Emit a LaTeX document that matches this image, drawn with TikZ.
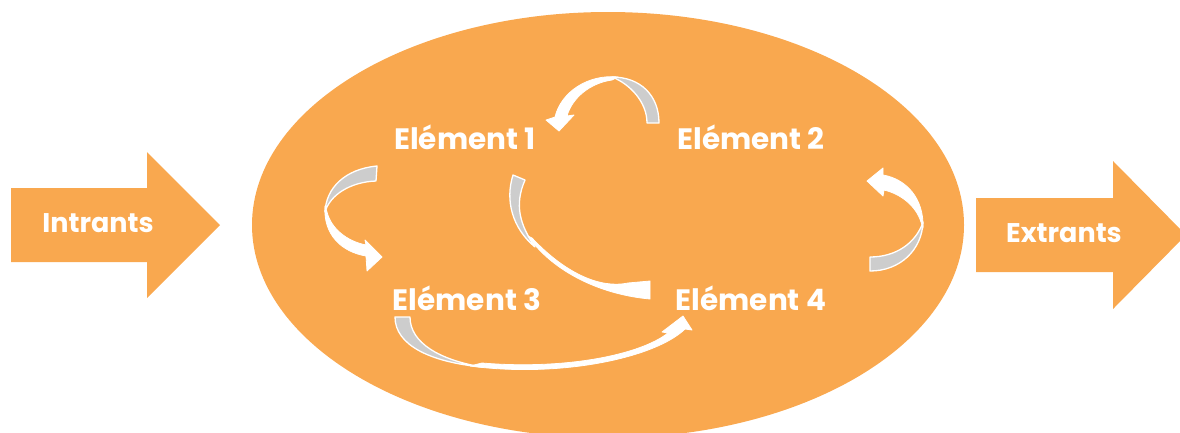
\documentclass[tikz,border=0pt]{standalone}
\usepackage{fontspec}
\setmainfont{Poppins}
\usetikzlibrary{shapes.geometric}
\definecolor{sysorange}{RGB}{249,168,79}
\definecolor{ribgray}{RGB}{205,205,205}
\begin{document}
\begin{tikzpicture}[x=1pt,y=-1pt,
  lab/.style={text=white, font=\bfseries\fontsize{27}{30}\selectfont, inner sep=0pt},
  elab/.style={lab, font=\bfseries\fontsize{29.5}{32}\selectfont},
  bigarrow/.style={fill=sysorange, draw=none},
  ribback/.style={fill=ribgray, draw=white, line width=1.3pt, line join=round},
  ribfront/.style={fill=white, draw=white, line width=0.8pt, line join=round}]
\useasboundingbox (0,0) rectangle (1180,432);
\clip (0,0) rectangle (1180,432);
% system ellipse
\node[ellipse, fill=sysorange, draw=none, minimum width=712pt, minimum height=426pt, inner sep=0pt] (sys) at (608,225) {};
% input / output arrows
\path[bigarrow] (11,188) -- (147,188) -- (147,152) -- (220,225) -- (147,298) -- (147,262) -- (11,262) -- cycle;
\path[bigarrow] (976,198) -- (1113,198) -- (1113,161) -- (1186,235) -- (1113,309) -- (1113,272) -- (976,272) -- cycle;
\node[lab] (in) at (98,223) {Intrants};
\node[lab] (out) at (1064,233) {Extrants};
% elements
\node[elab] (e1) at (465,137) {Elément 1};
\node[elab] (e2) at (751,137) {Elément 2};
\node[elab] (e3) at (467,298) {Elément 3};
\node[elab] (e4) at (751,298) {Elément 4};
% ribbon A : e2 -> e1
\path[ribback] (659,123) .. controls (659,95) and (640,77) .. (612,77) .. controls (630,84) and (647,102) .. (647,123) -- cycle;
\path[ribfront] (618,77) .. controls (588,74) and (561,92) .. (555,117) -- (546,120) -- (559,131) -- (574,115) -- (567,116) .. controls (572,98) and (590,83) .. (612,80) -- cycle;
% ribbon B : e1 -> e3
\path[ribback] (377,166) .. controls (345,169) and (326,188) .. (325,212) .. controls (330,195) and (350,182) .. (376,181) -- cycle;
\path[ribfront] (325,206) .. controls (323,235) and (342,252) .. (366,256) -- (367,271) -- (382,257) -- (365,240) -- (366,245) .. controls (346,241) and (331,228) .. (327,212) -- cycle;
% ribbon C : e4 -> e2
\path[ribback] (870,271) .. controls (900,271) and (922,250) .. (923,222) .. controls (916,243) and (896,257) .. (870,257) -- cycle;
\path[ribfront] (923,228) .. controls (924,198) and (906,179) .. (883,175) -- (883,168) -- (867,181) -- (883,196) -- (884,190) .. controls (901,194) and (916,206) .. (921,222) -- cycle;
% ribbon D : e1 -> e4
\path[ribback] (513,175) .. controls (505,200) and (512,228) .. (535,247) .. controls (520,225) and (514,205) .. (525,180) -- cycle;
\path[ribfront] (528,236) .. controls (550,268) and (595,294) .. (650,299) -- (650,281) -- (628,283) .. controls (600,289) and (565,273) .. (532,238) -- cycle;
% ribbon E : e3 -> e4
\path[ribback] (395,317) .. controls (395,345) and (430,362) .. (482,367) .. controls (440,360) and (410,343) .. (410,317) -- cycle;
\path[ribfront] (470,366) .. controls (560,378) and (655,358) .. (685,329) -- (692,330) -- (683,316) -- (662,332) -- (668,333) .. controls (640,355) and (565,370) .. (482,363) -- cycle;
\end{tikzpicture}
\end{document}
